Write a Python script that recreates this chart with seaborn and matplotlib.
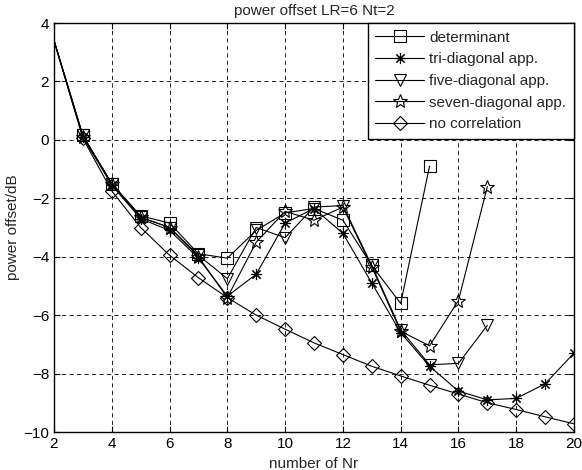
import pandas as pd
import matplotlib
matplotlib.use('Agg')
import matplotlib.pyplot as plt
import seaborn as sns

# values
nr_det = list(range(2, 16))
det_vals = [3.4, 0.15, -1.5, -2.6, -2.85, -3.9, -4.05, -3.1, -2.5, -2.35, -2.75, -4.3, -5.6, -0.9]

nr_tri = list(range(2, 21))
tri_vals = [3.4, 0.1, -1.55, -2.7, -3.1, -4.05, -5.35, -4.6, -2.85, -2.35, -3.2, -4.9, -6.6,
            -7.75, -8.6, -8.9, -8.85, -8.35, -7.3]

nr_five = list(range(2, 18))
five_vals = [3.4, 0.15, -1.5, -2.65, -3.0, -3.95, -4.75, -3.0, -3.35, -2.3, -2.25, -4.3, -6.5,
             -7.7, -7.65, -6.35]

nr_seven = list(range(2, 18))
seven_vals = [3.4, 0.1, -1.5, -2.65, -3.0, -4.0, -5.4, -3.5, -2.45, -2.75, -2.3, -4.35, -6.55,
              -7.05, -5.5, -1.6]

nr_nocorr = list(range(2, 21))
nocorr_vals = [3.4, 0.05, -1.75, -3.0, -3.95, -4.72, -5.4, -6.0, -6.48, -6.95, -7.35, -7.75,
               -8.08, -8.4, -8.7, -9.0, -9.23, -9.48, -9.72]

series = [
    ('determinant', nr_det, det_vals, 's', 8),
    ('tri-diagonal app.', nr_tri, tri_vals, (8, 2, 0), 8),
    ('five-diagonal app.', nr_five, five_vals, 'v', 9),
    ('seven-diagonal app.', nr_seven, seven_vals, '*', 10),
    ('no correlation', nr_nocorr, nocorr_vals, 'D', 7),
]

x_ticks = list(range(2, 21, 2))
y_ticks = list(range(-10, 5, 2))

sns.set_style('ticks')
plt.rcParams['font.family'] = ['Liberation Sans', 'DejaVu Sans']
plt.rcParams['font.size'] = 11

fig = plt.figure(figsize=(5.82, 4.70), dpi=100)
ax = fig.add_axes([54 / 582, 1 - 432 / 470, 520 / 582, 409 / 470])

for name, xs, ys, mk, ms in series:
    df = pd.DataFrame({'Nr': xs, 'offset': ys})
    sns.lineplot(data=df, x='Nr', y='offset', ax=ax, label=name, color='black',
                 linewidth=0.8, marker=mk, markersize=ms, markerfacecolor='none',
                 markeredgecolor='black', markeredgewidth=0.8, markevery=slice(1, None))

ax.set_xlim(2, 20)
ax.set_ylim(-10, 4)
ax.set_xticks(x_ticks)
ax.set_yticks(y_ticks)
ax.grid(True, color='black', linestyle=(0, (5, 4)), linewidth=0.6)
ax.tick_params(direction='in', length=4, labelsize=11, colors='black', top=True, right=True,
               labeltop=False, labelright=False)
for sp in ax.spines.values():
    sp.set_color('black')
    sp.set_linewidth(1.0)

ax.set_title('power offset LR=6 Nt=2', fontsize=11, pad=6)
ax.set_xlabel('number of Nr', fontsize=11, labelpad=4.5)
ax.set_ylabel('power offset/dB', fontsize=11, labelpad=2)

leg = ax.legend(loc='upper right', borderaxespad=0, fancybox=False, framealpha=1,
                edgecolor='black', fontsize=11, handlelength=3.2, handletextpad=0.35,
                labelspacing=0.5, borderpad=0.5)
leg.get_frame().set_linewidth(1.0)

fig.savefig('out.png', dpi=100)
